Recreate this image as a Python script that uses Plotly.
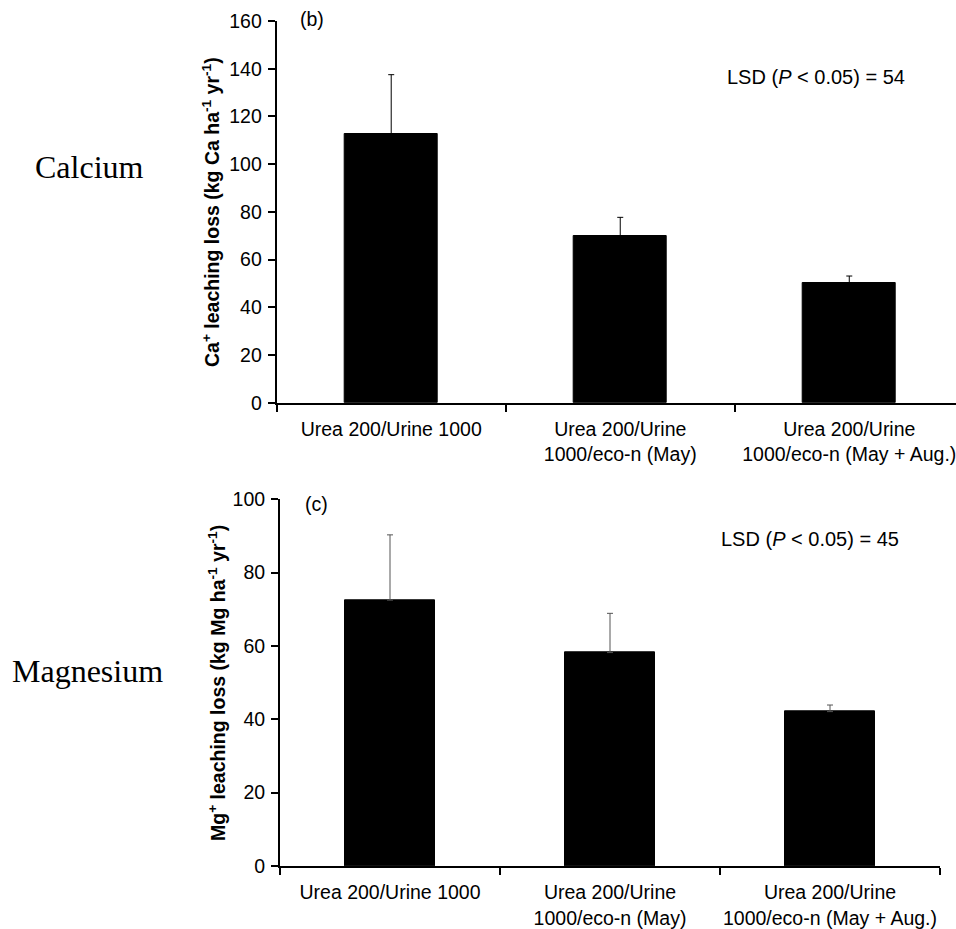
import plotly.graph_objects as go

# ---- data ----
categories = [
    "Urea 200/Urine 1000",
    "Urea 200/Urine<br>1000/eco-n (May)",
    "Urea 200/Urine<br>1000/eco-n (May + Aug.)",
]
ca_values = [112.8, 69.8, 50.3]
ca_errors = [24.7, 7.9, 2.8]
mg_values = [72.5, 58.2, 42.1]
mg_errors = [17.8, 10.7, 1.8]
ca_ticks = [0, 20, 40, 60, 80, 100, 120, 140, 160]
mg_ticks = [0, 20, 40, 60, 80, 100]

# ---- geometry helpers (reference pixel coords -> paper) ----
W, H = 956, 929


def px(x):
    return x / W


def py(y):
    return 1 - y / H


SANS = "Liberation Sans, Arial, sans-serif"
SERIF = "Liberation Serif, Times New Roman, serif"

fig = go.Figure()
fig.add_trace(go.Bar(
    x=categories, y=ca_values, width=0.405,
    marker=dict(color="black", line=dict(color="black", width=1)),
    error_y=dict(type="data", symmetric=False, array=ca_errors,
                 arrayminus=[0] * len(ca_errors), color="black",
                 thickness=1, width=3),
    xaxis="x", yaxis="y", showlegend=False, hoverinfo="skip",
))
fig.add_trace(go.Bar(
    x=categories, y=mg_values, width=0.405,
    marker=dict(color="black", line=dict(color="black", width=1)),
    error_y=dict(type="data", symmetric=False, array=mg_errors,
                 arrayminus=[0] * len(mg_errors), color="#555555",
                 thickness=1, width=3),
    xaxis="x2", yaxis="y2", showlegend=False, hoverinfo="skip",
))

xcommon = dict(type="category", tickson="boundaries", ticks="outside",
               ticklen=7, tickwidth=1.5, tickcolor="black", showline=True,
               linecolor="black", linewidth=2, showgrid=False, zeroline=False,
               tickangle=0, automargin=False, ticklabelstandoff=8,
               tickfont=dict(family=SANS, size=19.5, color="black"),
               fixedrange=True)
ycommon = dict(ticks="outside", ticklen=7, tickwidth=1.5, tickcolor="black",
               showline=True, linecolor="black", linewidth=2, showgrid=False,
               zeroline=False, automargin=False, ticklabelstandoff=2,
               tickfont=dict(family=SANS, size=19.5, color="black"),
               fixedrange=True)

fig.update_layout(
    width=W, height=H, autosize=False,
    margin=dict(l=0, r=0, t=0, b=0, pad=0),
    paper_bgcolor="white", plot_bgcolor="white",
    bargap=0,
    xaxis=dict(xcommon, domain=[px(276.7), 1], range=[-0.5, 2.466], anchor="y"),
    yaxis=dict(ycommon, domain=[py(402.7), py(21)], range=[0, 160],
               tickvals=ca_ticks, anchor="x"),
    xaxis2=dict(xcommon, domain=[px(280), px(940)], range=[-0.5, 2.5], anchor="y2"),
    yaxis2=dict(ycommon, domain=[py(866), py(499.3)], range=[0, 100],
                tickvals=mg_ticks, anchor="x2"),
)

annos = [
    dict(text="Calcium", x=px(89), y=py(167), font=dict(family=SERIF, size=32, color="black")),
    dict(text="Magnesium", x=px(87), y=py(671), font=dict(family=SERIF, size=32, color="black")),
    dict(text="(b)", x=px(312), y=py(19), font=dict(family=SANS, size=19.5, color="black")),
    dict(text="(c)", x=px(316), y=py(504), font=dict(family=SANS, size=19.5, color="black")),
    dict(text="LSD (<i>P</i> < 0.05) = 54", x=px(816), y=py(77),
         font=dict(family=SANS, size=20, color="black")),
    dict(text="LSD (<i>P</i> < 0.05) = 45", x=px(810), y=py(539),
         font=dict(family=SANS, size=20, color="black")),
    dict(text="<b>Ca<sup>+</sup> leaching loss (kg Ca ha<sup>-1</sup> yr<sup>-1</sup>)</b>",
         x=px(211), y=py(212), textangle=-90,
         font=dict(family=SANS, size=19.5, color="black")),
    dict(text="<b>Mg<sup>+</sup> leaching loss (kg Mg ha<sup>-1</sup> yr<sup>-1</sup>)</b>",
         x=px(217), y=py(683), textangle=-90,
         font=dict(family=SANS, size=19.5, color="black")),
]
for a in annos:
    a.update(xref="paper", yref="paper", xanchor="center", yanchor="middle",
             showarrow=False)
fig.update_layout(annotations=annos)

fig.write_html(
    "out.html",
    config={"displayModeBar": False},
    post_script="document.body.style.margin='0';document.body.style.overflow='hidden';",
)
